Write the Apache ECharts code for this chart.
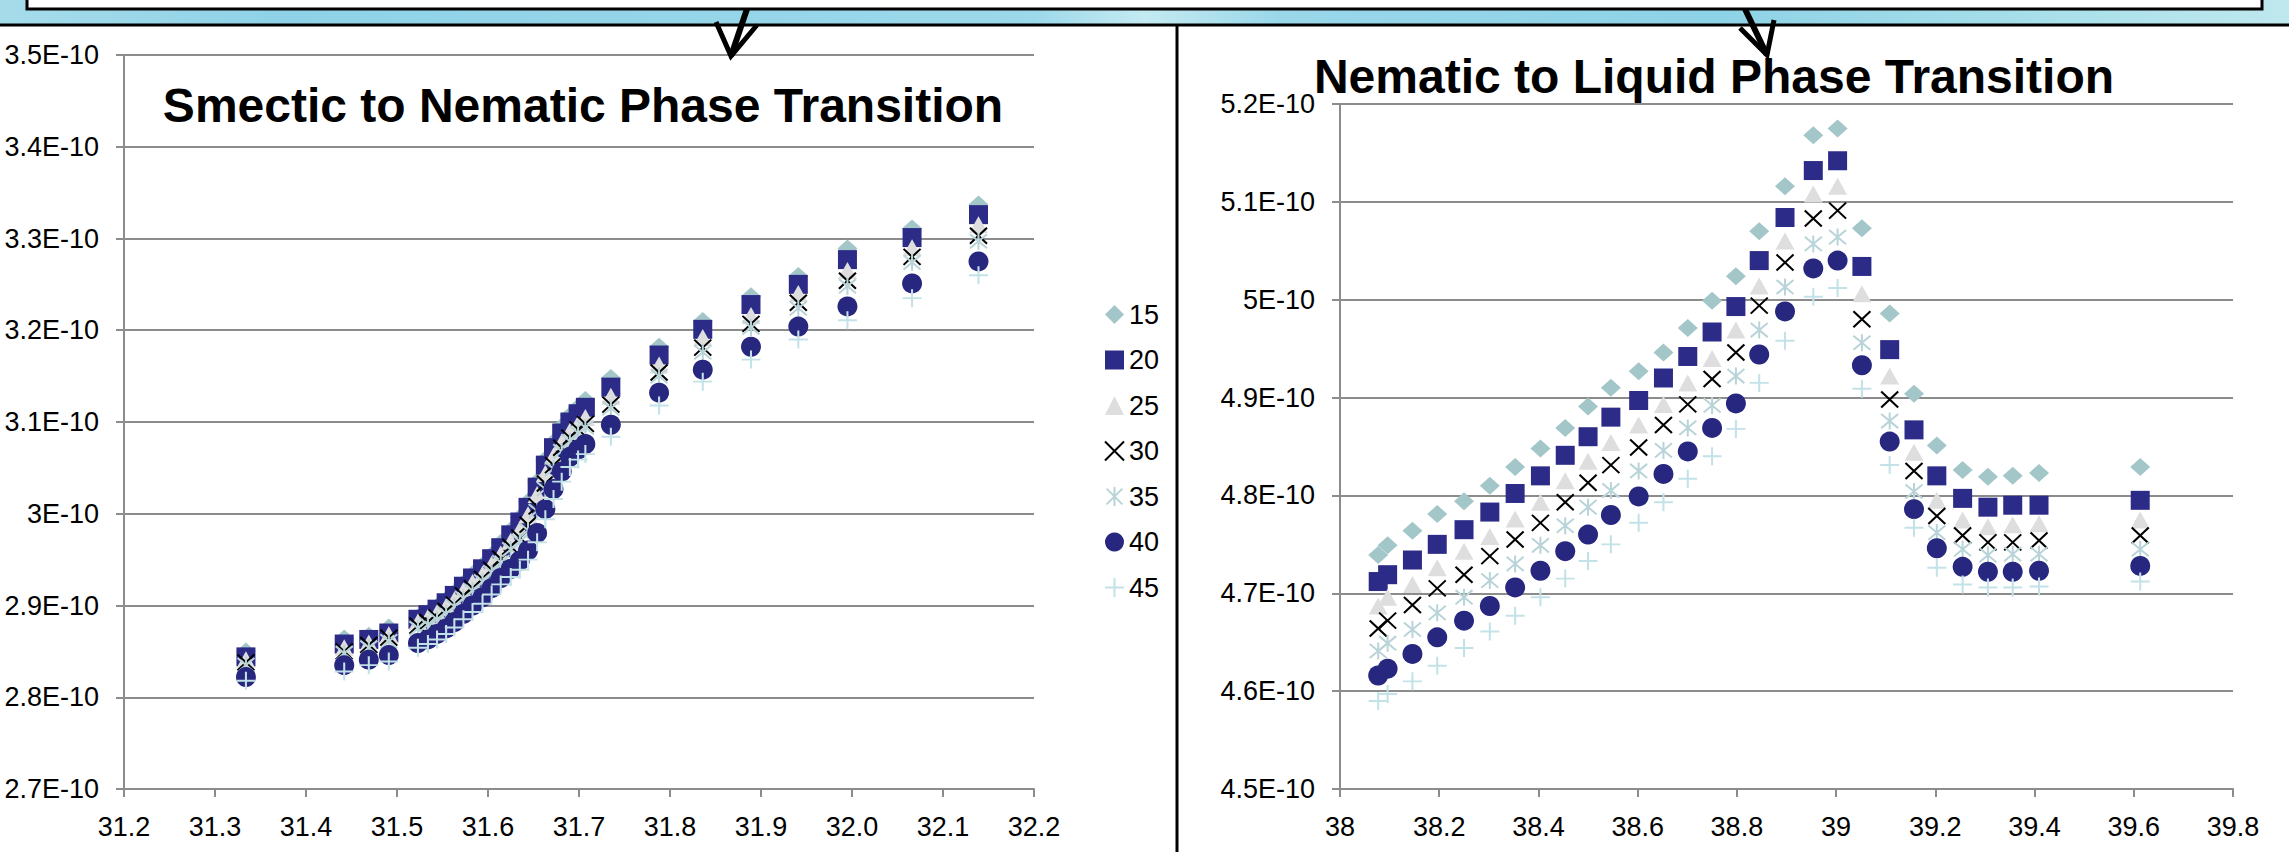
<!DOCTYPE html>
<html>
<head>
<meta charset="utf-8">
<script src="https://cdn.jsdelivr.net/npm/echarts@6/dist/echarts.min.js"></script>
<style>
  html, body { margin: 0; padding: 0; background: #fff; }
  #chart { width: 2289px; height: 852px; }
</style>
</head>
<body>
<div id="chart"></div>
<script>
// ---------- DATA (values in units of 1E-10) ----------
const seriesNames = ['15', '20', '25', '30', '35', '40', '45'];

// Left chart: Smectic to Nematic
const leftX = [31.334, 31.442, 31.469, 31.491, 31.523, 31.534, 31.544, 31.554, 31.563, 31.573, 31.583, 31.594, 31.604, 31.614, 31.625, 31.635, 31.644, 31.654, 31.663, 31.672, 31.681, 31.690, 31.699, 31.707, 31.735, 31.788, 31.836, 31.889, 31.941, 31.995, 32.066, 32.139];
const left15 = [2.850, 2.864, 2.867, 2.876, 2.887, 2.892, 2.899, 2.906, 2.914, 2.924, 2.934, 2.944, 2.955, 2.968, 2.982, 2.996, 3.013, 3.035, 3.059, 3.078, 3.095, 3.107, 3.116, 3.124, 3.148, 3.182, 3.210, 3.237, 3.259, 3.289, 3.311, 3.337];
const left20 = [2.844, 2.858, 2.863, 2.870, 2.885, 2.890, 2.896, 2.903, 2.911, 2.921, 2.930, 2.940, 2.951, 2.963, 2.977, 2.991, 3.007, 3.029, 3.053, 3.072, 3.088, 3.100, 3.109, 3.116, 3.138, 3.173, 3.201, 3.228, 3.250, 3.277, 3.301, 3.326];
const left25 = [2.841, 2.854, 2.859, 2.868, 2.882, 2.887, 2.892, 2.899, 2.906, 2.916, 2.925, 2.934, 2.945, 2.956, 2.970, 2.983, 2.999, 3.021, 3.044, 3.063, 3.078, 3.090, 3.098, 3.105, 3.128, 3.162, 3.192, 3.216, 3.240, 3.265, 3.290, 3.315];
const left30 = [2.838, 2.850, 2.857, 2.865, 2.878, 2.882, 2.887, 2.894, 2.901, 2.911, 2.919, 2.929, 2.939, 2.951, 2.964, 2.974, 2.988, 3.008, 3.033, 3.053, 3.072, 3.083, 3.092, 3.098, 3.119, 3.154, 3.181, 3.207, 3.230, 3.254, 3.280, 3.303];
const left35 = [2.835, 2.848, 2.854, 2.861, 2.875, 2.879, 2.885, 2.891, 2.899, 2.908, 2.916, 2.926, 2.936, 2.947, 2.961, 2.970, 2.982, 3.003, 3.027, 3.049, 3.068, 3.079, 3.088, 3.094, 3.115, 3.150, 3.176, 3.203, 3.224, 3.248, 3.274, 3.297];
const left40 = [2.822, 2.835, 2.841, 2.846, 2.859, 2.863, 2.869, 2.875, 2.882, 2.891, 2.900, 2.909, 2.919, 2.930, 2.940, 2.949, 2.960, 2.979, 3.005, 3.027, 3.046, 3.062, 3.070, 3.076, 3.097, 3.132, 3.157, 3.182, 3.204, 3.226, 3.251, 3.275];
const left45 = [2.818, 2.828, 2.835, 2.839, 2.854, 2.858, 2.863, 2.869, 2.876, 2.885, 2.893, 2.902, 2.912, 2.923, 2.931, 2.939, 2.950, 2.969, 2.994, 3.016, 3.035, 3.051, 3.059, 3.065, 3.084, 3.118, 3.144, 3.168, 3.190, 3.211, 3.235, 3.260];

// Right chart: Nematic to Liquid
const rightX = [38.077, 38.096, 38.146, 38.196, 38.250, 38.302, 38.353, 38.404, 38.454, 38.500, 38.546, 38.602, 38.652, 38.701, 38.750, 38.798, 38.845, 38.897, 38.954, 39.003, 39.052, 39.108, 39.157, 39.203, 39.255, 39.306, 39.356, 39.409, 39.613];
const right15 = [4.739, 4.749, 4.764, 4.781, 4.794, 4.810, 4.829, 4.848, 4.869, 4.891, 4.910, 4.927, 4.946, 4.971, 4.999, 5.024, 5.070, 5.116, 5.168, 5.175, 5.073, 4.986, 4.904, 4.851, 4.826, 4.819, 4.820, 4.823, 4.829];
const right20 = [4.712, 4.719, 4.734, 4.750, 4.765, 4.783, 4.802, 4.820, 4.841, 4.860, 4.880, 4.897, 4.920, 4.942, 4.967, 4.993, 5.040, 5.084, 5.132, 5.142, 5.034, 4.949, 4.867, 4.820, 4.797, 4.788, 4.790, 4.790, 4.795];
const right25 = [4.687, 4.696, 4.709, 4.726, 4.743, 4.758, 4.776, 4.793, 4.815, 4.835, 4.854, 4.872, 4.893, 4.915, 4.940, 4.969, 5.014, 5.060, 5.108, 5.116, 5.006, 4.922, 4.844, 4.795, 4.775, 4.768, 4.770, 4.771, 4.775];
const right30 = [4.664, 4.672, 4.688, 4.705, 4.719, 4.738, 4.755, 4.772, 4.793, 4.813, 4.831, 4.849, 4.872, 4.893, 4.919, 4.946, 4.994, 5.038, 5.083, 5.091, 4.980, 4.898, 4.825, 4.779, 4.759, 4.752, 4.752, 4.754, 4.759];
const right35 = [4.641, 4.649, 4.663, 4.680, 4.696, 4.713, 4.730, 4.749, 4.769, 4.788, 4.805, 4.825, 4.846, 4.869, 4.892, 4.922, 4.969, 5.013, 5.057, 5.064, 4.956, 4.876, 4.804, 4.762, 4.745, 4.739, 4.740, 4.740, 4.745];
const right40 = [4.616, 4.623, 4.638, 4.655, 4.672, 4.687, 4.706, 4.723, 4.743, 4.760, 4.780, 4.799, 4.822, 4.845, 4.869, 4.894, 4.944, 4.988, 5.032, 5.040, 4.933, 4.855, 4.786, 4.746, 4.727, 4.722, 4.722, 4.723, 4.728];
const right45 = [4.590, 4.597, 4.610, 4.626, 4.644, 4.661, 4.677, 4.696, 4.715, 4.733, 4.750, 4.772, 4.793, 4.817, 4.840, 4.868, 4.915, 4.958, 5.003, 5.012, 4.909, 4.831, 4.767, 4.726, 4.709, 4.706, 4.706, 4.707, 4.712];

const leftTitle = 'Smectic to Nematic Phase Transition';
const rightTitle = 'Nematic to Liquid Phase Transition';

// ---------- STYLES ----------
const FONT = '"Liberation Sans", Arial, sans-serif';
const GRID_COLOR = '#8c8c8c';
const markerStyles = [
  { symbol: 'diamond', symbolSize: [20, 18], itemStyle: { color: '#a3c6c9', opacity: 1 } },
  { symbol: 'rect', symbolSize: [19, 19], itemStyle: { color: '#2c2b88', opacity: 1 } },
  { symbol: 'triangle', symbolSize: [19, 17], itemStyle: { color: '#dedede', opacity: 1 } },
  { symbol: 'path://M0,0L10,10M10,0L0,10', symbolSize: [17, 16], itemStyle: { color: 'rgba(0,0,0,0)', borderColor: '#000000', borderWidth: 2, opacity: 1 } },
  { symbol: 'path://M0,0L10,10M10,0L0,10M5,-1L5,11', symbolSize: [17, 17], itemStyle: { color: 'rgba(0,0,0,0)', borderColor: '#b9d4d8', borderWidth: 2, opacity: 1 } },
  { symbol: 'circle', symbolSize: 20, itemStyle: { color: '#272780', opacity: 1 } },
  { symbol: 'path://M5,0L5,10M0,5L10,5', symbolSize: [19, 18], itemStyle: { color: 'rgba(0,0,0,0)', borderColor: '#c3e2e8', borderWidth: 2, opacity: 1 } }
];

const leftSets = [left15, left20, left25, left30, left35, left40, left45];
const rightSets = [right15, right20, right25, right30, right35, right40, right45];

function makeSeries(xs, sets, idx) {
  return sets.map((ys, i) => Object.assign({
    name: seriesNames[i],
    type: 'scatter',
    xAxisIndex: idx,
    yAxisIndex: idx,
    data: xs.map((x, j) => [x, ys[j]]),
    emphasis: { disabled: true },
    z: 2 + i
  }, JSON.parse(JSON.stringify(markerStyles[i]))));
}

function yAxisCfg(idx, min, max) {
  return {
    type: 'value', gridIndex: idx, min: min, max: max, interval: 0.1,
    axisLine: { show: true, lineStyle: { color: GRID_COLOR, width: 2 } },
    axisTick: { show: true, length: 8, lineStyle: { color: GRID_COLOR, width: 2 } },
    splitLine: { show: true, lineStyle: { color: GRID_COLOR, width: 2 } },
    axisLabel: {
      margin: 25, color: '#000', fontSize: 27, fontFamily: FONT,
      formatter: v => (Math.round(v * 10) / 10) + 'E-10'
    }
  };
}

function xAxisCfg(idx, min, max, interval, fmt) {
  return {
    type: 'value', gridIndex: idx, min: min, max: max, interval: interval,
    axisLine: { show: true, onZero: false, lineStyle: { color: GRID_COLOR, width: 2 } },
    axisTick: { show: true, length: 8, lineStyle: { color: GRID_COLOR, width: 2 } },
    splitLine: { show: false },
    axisLabel: { margin: 24, color: '#000', fontSize: 27, fontFamily: FONT, formatter: fmt }
  };
}

const chart = echarts.init(document.getElementById('chart'), null, { renderer: 'svg' });

const bandGradient = new echarts.graphic.LinearGradient(0, 0, 1, 0, [
  { offset: 0, color: '#a6dcea' },
  { offset: 0.12, color: '#8fd2e7' },
  { offset: 0.3, color: '#95d5e8' },
  { offset: 0.45, color: '#9bd8ea' },
  { offset: 0.5, color: '#c4eaf1' },
  { offset: 0.56, color: '#99d7e9' },
  { offset: 0.75, color: '#8ed2e6' },
  { offset: 0.9, color: '#a9e0ea' },
  { offset: 1, color: '#bfe8ee' }
]);

const option = {
  animation: false,
  backgroundColor: '#ffffff',
  grid: [
    { left: 124, right: 1255, top: 55, bottom: 63 },
    { left: 1340, right: 56, top: 104, bottom: 63 }
  ],
  xAxis: [
    xAxisCfg(0, 31.2, 32.2, 0.1, v => v.toFixed(1)),
    xAxisCfg(1, 38, 39.8, 0.2, v => String(Math.round(v * 10) / 10))
  ],
  yAxis: [
    yAxisCfg(0, 2.7, 3.5),
    yAxisCfg(1, 4.5, 5.2)
  ],
  legend: {
    data: seriesNames,
    orient: 'vertical',
    left: 1099,
    top: 296,
    itemWidth: 19,
    itemHeight: 19,
    itemGap: 18.5,
    selectedMode: false,
    textStyle: { fontSize: 27, fontFamily: FONT, color: '#000' }
  },
  series: makeSeries(leftX, leftSets, 0).concat(makeSeries(rightX, rightSets, 1)),
  graphic: [
    { type: 'rect', shape: { x: 0, y: 0, width: 2289, height: 25 }, style: { fill: bandGradient }, z: 10 },
    { type: 'rect', shape: { x: 27, y: -5, width: 2235, height: 14 }, style: { fill: '#ffffff', stroke: '#000000', lineWidth: 3 }, z: 11 },
    { type: 'line', shape: { x1: 0, y1: 25, x2: 2289, y2: 25 }, style: { stroke: '#000000', lineWidth: 3 }, z: 11 },
    { type: 'line', shape: { x1: 1177, y1: 25, x2: 1177, y2: 852 }, style: { stroke: '#000000', lineWidth: 3 }, z: 11 },
    // left arrow
    { type: 'polyline', shape: { points: [[747, 9], [731, 56]] }, style: { stroke: '#000', lineWidth: 6, fill: null }, z: 12 },
    { type: 'polyline', shape: { points: [[716, 22], [731, 56], [757, 25]] }, style: { stroke: '#000', lineWidth: 5, fill: null, lineJoin: 'miter' }, z: 12 },
    // right arrow
    { type: 'polyline', shape: { points: [[1745, 9], [1767, 55]] }, style: { stroke: '#000', lineWidth: 6, fill: null }, z: 12 },
    { type: 'polyline', shape: { points: [[1740, 28], [1767, 55], [1774, 20]] }, style: { stroke: '#000', lineWidth: 5, fill: null, lineJoin: 'miter' }, z: 12 },
    // titles
    { type: 'text', x: 583, y: 105, z: 20, style: { text: leftTitle, align: 'center', verticalAlign: 'middle', font: 'bold 48px ' + FONT, fill: '#000' } },
    { type: 'text', x: 1714, y: 76, z: 20, style: { text: rightTitle, align: 'center', verticalAlign: 'middle', font: 'bold 48px ' + FONT, fill: '#000' } }
  ]
};

chart.setOption(option);
</script>
</body>
</html>
